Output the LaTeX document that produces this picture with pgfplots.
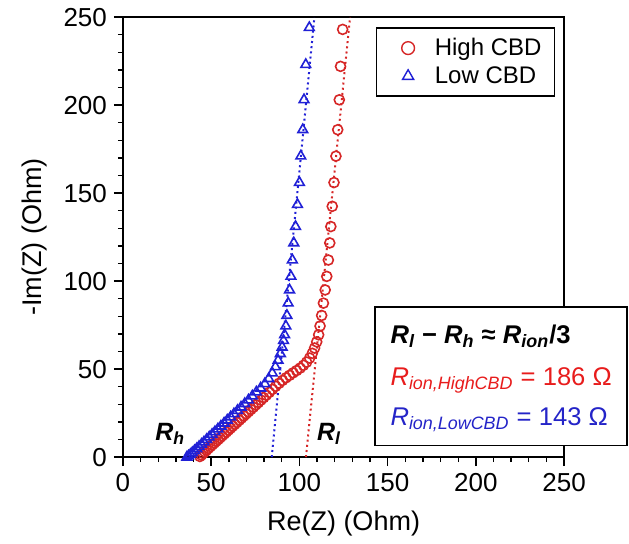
\documentclass[border=0pt]{standalone}
\usepackage{fontspec}
\setmainfont{Liberation Sans}
\usepackage{pgfplots}
\pgfplotsset{compat=1.18}

\definecolor{hired}{RGB}{214,38,38}
\definecolor{loblue}{RGB}{32,32,214}
\definecolor{txtred}{RGB}{232,28,28}
\definecolor{txtblue}{RGB}{36,36,200}

\begin{document}
\begin{tikzpicture}
\begin{axis}[
    scale only axis,
    width=220.5pt, height=220pt,
    xmin=0, xmax=250, ymin=0, ymax=250,
    xtick={0,50,...,250}, ytick={0,50,...,250},
    minor tick num=4,
    tick pos=left, tick align=outside,
    major tick length=4.5pt, minor tick length=2.5pt,
    axis line style={line width=0.7pt},
    every tick/.style={black, line width=0.7pt},
    /pgf/number format/assume math mode=true,
    tick label style={font=\fontsize{13}{13}\selectfont},
    label style={font=\fontsize{13.5}{13.5}\selectfont},
    xlabel={Re(Z) (Ohm)}, ylabel={-Im(Z) (Ohm)},
    xlabel style={at={(rel axis cs:0.5,-0.15)}, anchor=center},
    ylabel style={at={(rel axis cs:-0.2,0.5)}, anchor=center},
    clip=false,
    legend style={at={(0.98,0.977)}, anchor=north east,
        font=\fontsize{12}{13}\selectfont, draw=black, line width=0.7pt,
        inner xsep=4.5pt, inner ysep=3pt},
    legend cell align=left,
    legend image code/.code={%
        \draw[#1, mark size=3.2pt, mark options={line width=0.7pt}] plot coordinates {(0pt,0pt)};
        \path (-11pt,0pt) (11pt,0pt);},
]
% fitted lines
\addplot[hired, dash pattern=on 1pt off 1.6pt, line width=1pt, forget plot] coordinates {(103.7,0)(128.7,250)};
\addplot[loblue, dash pattern=on 1pt off 1.6pt, line width=1pt, forget plot] coordinates {(84.3,0)(108.5,250)};

% High CBD
\addplot[only marks, mark=o, mark size=2.5pt, hired, mark options={line width=0.8pt}] coordinates {
(124.5,243)(123.3,222)(122.6,203)(121.7,186)(120.7,171)(119.6,156)(118.6,142.5)(117.8,131)
(117.2,121.7)(116.4,112)(115.5,102.7)(114.6,95)(113.6,87.5)(112.6,80.5)(111.7,74.5)(110.9,69.5)
(109.8,65.5)(108.6,62)(107.3,59)(105.8,56.3)(104.1,54.0)(102.3,52.2)(100.4,50.6)(98.4,49.2)
(96.4,47.9)(94.4,46.5)(92.4,45.1)(90.4,43.6)(88.5,42.0)(86.6,40.3)(84.7,38.5)(82.9,36.8)
(81.2,35.2)(79.7,33.8)(78.2,32.4)(76.7,31.0)(75.3,29.7)(73.9,28.4)(72.5,27.1)(71.1,25.8)
(69.8,24.6)(68.5,23.4)(67.2,22.2)(65.9,21.0)(64.6,19.8)(63.4,18.7)(62.2,17.6)(61.0,16.5)
(59.8,15.4)(58.6,14.3)(57.4,13.2)(56.2,12.1)(55.0,11.0)(53.9,10.0)(52.8,9.0)(51.7,8.0)
(50.6,7.0)(49.5,6.0)(48.4,5.0)(47.4,4.0)(46.4,3.0)(45.4,2.1)(44.5,1.2)(43.6,0.4)
};

% Low CBD
\addplot[only marks, mark=triangle, mark size=2.8pt, loblue, mark options={line width=0.8pt}] coordinates {
(105.6,244)(103.6,223)(102.6,203)(101.9,186)(100.8,171)(100.0,156)(98.9,143.5)(97.8,131)
(96.8,121.7)(96.0,112)(95.2,102.7)(94.4,95)(93.6,87.5)(92.9,80.5)(92.3,74.5)(91.6,69.5)
(91.0,66.2)(90.2,62.5)(89.2,58.8)(87.9,55.0)(86.4,51.3)(84.6,47.8)(82.6,44.6)(80.4,41.7)
(78.0,39.2)(75.6,37.0)(73.3,34.7)(71.1,32.4)(69.0,30.4)(66.9,28.4)(64.9,26.5)(62.9,24.6)
(61.0,22.8)(59.1,21.0)(57.3,19.3)(55.5,17.6)(53.8,16.0)(52.1,14.4)(50.5,12.9)(48.9,11.4)
(47.4,10.0)(45.9,8.6)(44.5,7.3)(43.1,6.0)(41.8,4.8)(40.5,3.6)(39.3,2.5)(38.2,1.5)
(37.1,0.6)(36.2,0)
};
\legend{High CBD, Low CBD}

\node[anchor=base west, inner sep=0pt, font=\fontsize{12.5}{12.5}\selectfont\bfseries\itshape]
    at (axis cs:18.1,9.7) {R\textsubscript{h}};
\node[anchor=base west, inner sep=0pt, font=\fontsize{12.5}{12.5}\selectfont\bfseries\itshape]
    at (axis cs:109.8,9.7) {R\textsubscript{l}};

\coordinate (boxll) at (axis cs:142.9,6.8);
\coordinate (boxur) at (axis cs:285.7,85.4);
\coordinate (t1) at (axis cs:151.4,64.8);
\coordinate (t2) at (axis cs:151.4,40.9);
\coordinate (t3) at (axis cs:151.4,18.2);
\coordinate (bbll) at (axis cs:-69.7,-48.9);
\coordinate (bbur) at (axis cs:286.8,259.7);
\end{axis}

\draw[fill=white, line width=0.7pt] (boxll) rectangle (boxur);
\node[anchor=base west, inner sep=0pt, font=\fontsize{12.8}{12.8}\selectfont\bfseries]
    at (t1) {\itshape R\textsubscript{l} \upshape− \itshape R\textsubscript{h} \upshape≈ \itshape R\textsubscript{ion}\upshape/3};
\node[anchor=base west, inner sep=0pt, text=txtred, font=\fontsize{12.8}{12.8}\selectfont]
    at (t2) {\itshape R\textsubscript{ion,HighCBD}\upshape{} = 186 Ω};
\node[anchor=base west, inner sep=0pt, text=txtblue, font=\fontsize{12.8}{12.8}\selectfont]
    at (t3) {\itshape R\textsubscript{ion,LowCBD}\upshape{} = 143 Ω};

\pgfresetboundingbox
\path[use as bounding box] (bbll) rectangle (bbur);
\end{tikzpicture}
\end{document}
